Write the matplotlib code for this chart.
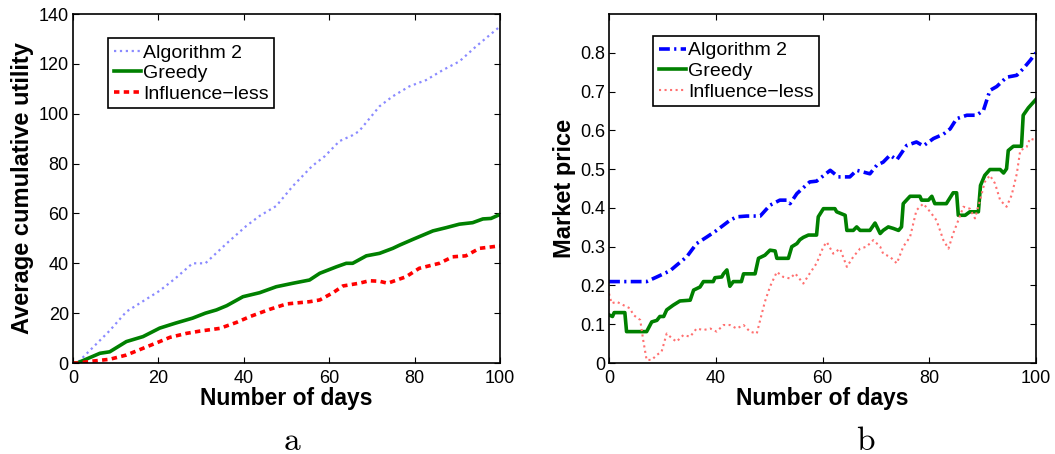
import matplotlib
matplotlib.use("Agg")
import matplotlib.pyplot as plt

# panel a: average cumulative utility
days_a = [0, 1, 8.6, 12.5, 20.3, 24, 28, 31, 36, 40.6, 43.7, 47.6, 51.5, 56, 59, 62.4, 65.5, 67,
          71.8, 74.9, 78.8, 82.7, 86.6, 90.5, 94.4, 100]
alg2_a = [0, 0, 13, 20.6, 29, 34, 40, 40, 48, 55, 59, 63, 71, 79, 83, 89, 91.4, 93,
          103, 107, 111, 113.5, 117.5, 121, 127, 135]

days_g = [0, 1, 6.3, 8.6, 12.5, 16.4, 20.3, 24, 28, 31, 33.6, 36, 39.8, 43.7, 47.6, 51.5, 55.4,
          57.8, 61.7, 64, 65.5, 68.7, 71.8, 74.9, 76.5, 79.6, 84.3, 87.4, 90.5, 93.6, 96, 97.9, 100]
greedy_a = [0, 0, 3.9, 4.5, 8.6, 10.6, 14, 16, 18, 20, 21.3, 23, 26.6, 28.2, 30.6, 32, 33.3,
            36, 38.6, 40, 40, 43, 44, 46, 47.3, 49.6, 53, 54.3, 55.7, 56.3, 57.8, 58, 59.6]

days_i = [0, 1, 4.8, 8.6, 12.5, 16.4, 20.3, 22.7, 26.6, 29.7, 34.4, 38.3, 41.4, 46, 50, 55.4,
          57.8, 60.9, 63.2, 67, 69.4, 71.8, 73.7, 78, 81.1, 85.8, 88.9, 92, 95.2, 100]
infl_a = [0, 0, 0.8, 1.5, 3.2, 5.9, 8.6, 10.3, 11.9, 12.8, 13.9, 16.3, 18.6, 21.5, 23.7, 24.6,
          25.3, 28.2, 30.9, 32, 33, 32.8, 32, 34.6, 38, 40, 42.6, 43, 46, 47]

# panel b: market price
days_b1 = [0, 8.8, 11.2, 14.3, 15.8, 18.2, 20.5, 22.9, 25.2, 28.3, 29.9, 32.2, 35.4, 37.7, 40,
           41.6, 42.4, 44, 47, 48.6, 51.8, 53.7, 56.4, 58, 61.1, 62.7, 64.2, 65.8, 67.4, 69.7,
           72, 73.6, 76, 78.3, 79.9, 81.4, 83.8, 86.1, 87.7, 89.2, 90.8, 93.1, 95.5, 97, 98.6, 100]
alg2_b = [0.21, 0.21, 0.222, 0.238, 0.252, 0.274, 0.308, 0.325, 0.342, 0.368, 0.377, 0.379,
          0.379, 0.407, 0.42, 0.42, 0.411, 0.437, 0.467, 0.469, 0.497, 0.48, 0.48, 0.497, 0.488,
          0.51, 0.518, 0.536, 0.524, 0.561, 0.57, 0.56, 0.579, 0.59, 0.604, 0.63, 0.639, 0.639,
          0.652, 0.703, 0.713, 0.737, 0.742, 0.759, 0.78, 0.8]

days_b2 = [0, 0.8, 1.2, 3.7, 4.1, 8.8, 10, 11.2, 11.9, 12.8, 13.5, 15, 16.6, 19, 19.8, 21.3,
           22.1, 24.4, 24.8, 26.4, 26.8, 27.6, 28.3, 29.1, 31, 31.5, 34.2, 35, 36.5, 37.7, 38.9,
           39.3, 42, 42.8, 44, 44.7, 45.5, 46.7, 48.6, 49, 50.2, 52.9, 53.3, 55.3, 55.7, 57.2,
           58, 58.8, 61.1, 62.3, 63.5, 64.2, 65.4, 66.6, 67.8, 68.5, 68.9, 70.5, 72.8, 73.2,
           74.8, 75.6, 76.3, 79, 80.6, 81.4, 81.8, 83.4, 84.5, 86.5, 87, 88, 89.2, 91.6, 92.4,
           93.1, 93.5, 94.7, 96.6, 97, 98.2, 100]
greedy_b = [0.124, 0.12, 0.13, 0.13, 0.081, 0.081, 0.106, 0.11, 0.12, 0.12, 0.137, 0.149, 0.16,
            0.162, 0.188, 0.196, 0.21, 0.21, 0.22, 0.222, 0.23, 0.24, 0.198, 0.21, 0.21, 0.23,
            0.23, 0.27, 0.278, 0.291, 0.289, 0.27, 0.27, 0.3, 0.308, 0.318, 0.324, 0.33, 0.33,
            0.377, 0.398, 0.398, 0.39, 0.381, 0.342, 0.342, 0.351, 0.342, 0.342, 0.361, 0.334,
            0.342, 0.351, 0.347, 0.342, 0.351, 0.411, 0.43, 0.43, 0.42, 0.42, 0.43, 0.411, 0.411,
            0.439, 0.439, 0.381, 0.381, 0.39, 0.39, 0.458, 0.484, 0.499, 0.499, 0.49, 0.501,
            0.548, 0.559, 0.559, 0.639, 0.658, 0.68]

days_b3 = [0, 0.6, 1.8, 3.4, 4.9, 5.7, 7.3, 8, 8.8, 10, 11.2, 12.3, 13.5, 14.7, 15.8, 17.4, 19,
           20.5, 22.1, 23.7, 25.2, 26.8, 28.3, 29.9, 31.5, 33, 34.6, 35.4, 36.5, 37.7, 39.3,
           40.8, 42.4, 43.6, 45.5, 47, 48.6, 50.2, 51, 52.5, 54.1, 55.7, 57.2, 58.8, 60.3, 61.9,
           63.5, 64.2, 65.8, 67.4, 68.9, 70.5, 72, 73.6, 75.2, 76.7, 78.3, 79.5, 80.6, 81.8, 83,
           84.5, 85.7, 86.9, 88, 89.2, 90.4, 91.6, 93.1, 94.3, 95.5, 96.3, 97.8, 98.6, 100]
infl_b = [0.179, 0.154, 0.158, 0.149, 0.141, 0.124, 0.111, 0.059, 0.008, 0.008, 0.021, 0.029,
          0.076, 0.064, 0.055, 0.072, 0.068, 0.089, 0.085, 0.089, 0.081, 0.098, 0.098, 0.089,
          0.098, 0.081, 0.076, 0.111, 0.158, 0.197, 0.235, 0.222, 0.218, 0.231, 0.205, 0.231,
          0.257, 0.3, 0.312, 0.282, 0.295, 0.248, 0.274, 0.295, 0.3, 0.317, 0.3, 0.282, 0.274,
          0.257, 0.3, 0.325, 0.394, 0.411, 0.39, 0.368, 0.317, 0.295, 0.334, 0.368, 0.403,
          0.398, 0.373, 0.42, 0.467, 0.484, 0.463, 0.42, 0.403, 0.433, 0.488, 0.548, 0.557,
          0.579, 0.574]

labels = ["Algorithm 2", "Greedy", "Influence\u2212less"]
ticks_b = [0, 25, 50, 75, 100]
ticklabels_b = ["0", "40", "60", "80", "100"]

plt.rcParams["font.family"] = ["Liberation Sans", "DejaVu Sans"]

fig = plt.figure(figsize=(10.55, 4.54), dpi=100)
ax1 = fig.add_axes([0.0692, 0.2004, 0.4047, 0.7687])
ax2 = fig.add_axes([0.5773, 0.2004, 0.4047, 0.7687])

ax1.plot(days_a, alg2_a, color="#8a8aff", ls=":", lw=1.6, label=labels[0])
ax1.plot(days_g, greedy_a, color="#008000", ls="-", lw=2.6, label=labels[1])
ax1.plot(days_i, infl_a, color="#ff0000", ls=(0, (1.5, 1.2)), lw=2.6, label=labels[2])
ax1.set_xlim(0, 100)
ax1.set_ylim(0, 140)
ax1.set_xticks([0, 20, 40, 60, 80, 100])
ax1.set_yticks(range(0, 141, 20))
ax1.set_ylabel("Average cumulative utility", fontsize=17, fontweight="bold", labelpad=3)

ax2.plot(days_b1, alg2_b, color="#0000ff", ls=(0, (3, 1.2, 0.6, 1.2)), lw=2.6, label=labels[0])
ax2.plot(days_b2, greedy_b, color="#008000", ls="-", lw=2.6, label=labels[1])
ax2.plot(days_b3, infl_b, color="#ff7070", ls=":", lw=1.5, label=labels[2])
ax2.set_xlim(0, 100)
ax2.set_ylim(0, 0.9)
ax2.set_xticks(ticks_b)
ax2.set_xticklabels(ticklabels_b)
ax2.set_yticks([0, 0.1, 0.2, 0.3, 0.4, 0.5, 0.6, 0.7, 0.8])
ax2.set_yticklabels(["0", "0.1", "0.2", "0.3", "0.4", "0.5", "0.6", "0.7", "0.8"])
ax2.set_ylabel("Market price", fontsize=17, fontweight="bold", labelpad=3)

for ax in (ax1, ax2):
    ax.set_xlabel("Number of days", fontsize=16.5, fontweight="bold", labelpad=0)
    ax.tick_params(direction="in", top=True, right=True, length=4, width=0.8, labelsize=13)
    ax.tick_params(axis="x", pad=5)
    ax.tick_params(axis="y", pad=3)
    for sp in ax.spines.values():
        sp.set_linewidth(1.2)

legopts = dict(loc="upper left", borderaxespad=0, fontsize=14, fancybox=False,
               edgecolor="black", framealpha=1, handlelength=1.4, handletextpad=0.1,
               labelspacing=0.15, borderpad=0.3)
leg1 = ax1.legend(bbox_to_anchor=(0.082, 0.931), **legopts)
leg1.get_frame().set_linewidth(1.2)
leg2 = ax2.legend(bbox_to_anchor=(0.103, 0.937), **legopts)
leg2.get_frame().set_linewidth(1.2)

fig.text(292 / 1055, 1 - 450 / 454, "a", family="cmr10", fontsize=24, ha="center", va="baseline")
fig.text(865 / 1055, 1 - 450 / 454, "b", family="cmr10", fontsize=24, ha="center", va="baseline")

fig.savefig("out.png", dpi=100)
